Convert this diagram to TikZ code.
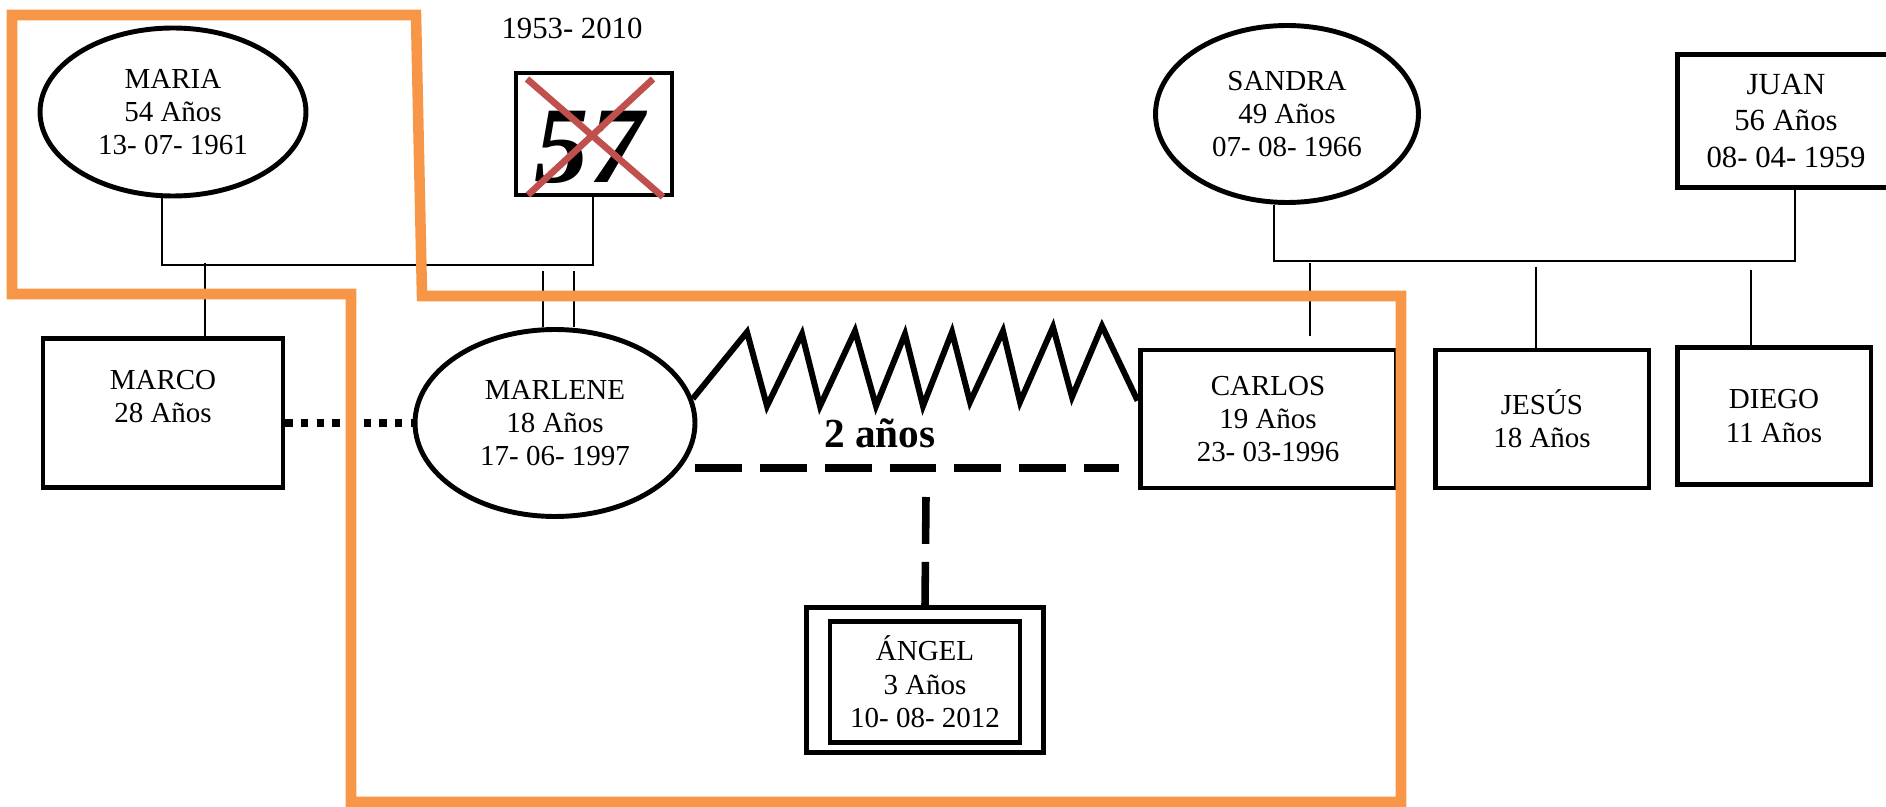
\documentclass[tikz,border=0pt]{standalone}
\usepackage{fontspec}
\setmainfont{Liberation Serif}
\usetikzlibrary{shapes.geometric}
\definecolor{naranja}{HTML}{F79646}
\definecolor{rojo}{HTML}{C0504D}

\begin{document}
\begin{tikzpicture}[x=0.02cm,y=-0.02cm,font=\fontsize{16.5pt}{19pt}\selectfont]
      		\tikzstyle{mujer}=[draw,shape=ellipse,line width=2.8pt,align=center,inner sep=0pt]
      		\tikzstyle{hombre}=[draw,shape=rectangle,line width=2.8pt,align=center,inner sep=0pt]
      		\tikzstyle{lazo}=[line width=0.75pt]
      		\tikzstyle{puntos}=[line width=4.8pt,dash pattern=on 4.2pt off 4.7pt]
      		\tikzstyle{rayas}=[line width=4.3pt,dash pattern=on 26.7pt off 10.2pt]
      		\tikzstyle{resorte}=[line width=3.4pt,line join=miter]
      		\tikzstyle{cruz}=[draw=rojo,line width=3.8pt]
      		\tikzstyle{zona}=[draw=naranja,line width=6pt]

		\useasboundingbox (0,0) rectangle (1886,807);

       	\node[mujer,minimum width=5.32cm,minimum height=3.36cm](maria) at (173,112){MARIA\\54 Años\\13- 07- 1961};
        	\node[hombre,minimum width=3.12cm,minimum height=2.44cm](finado) at (594,134){};
        	\node(cifra) at (589,147){\fontsize{62pt}{62pt}\selectfont\bfseries\itshape 57};
        	\node(vida) at (572,28){\fontsize{17.5pt}{20pt}\selectfont 1953- 2010};

		\node[hombre,minimum width=4.8cm,minimum height=2.98cm](marco) at (163,413){MARCO\\28 Años\\~};
		\node[mujer,minimum width=5.6cm,minimum height=3.74cm](marlene) at (555,423){MARLENE\\18 Años\\17- 06- 1997};
		\node[hombre,minimum width=5.12cm,minimum height=2.76cm](carlos) at (1268,419){CARLOS\\19 Años\\23- 03-1996};

		\node[mujer,minimum width=5.26cm,minimum height=3.54cm](sandra) at (1287,114){SANDRA\\49 Años\\07- 08- 1966};
		\node[hombre,minimum width=4.36cm,minimum height=2.66cm,font=\fontsize{17.5pt}{20.5pt}\selectfont](juan) at (1786,121){JUAN\\56 Años\\08- 04- 1959};
		\node[hombre,minimum width=4.28cm,minimum height=2.76cm](jesus) at (1542,419){JESÚS\\18 Años};
		\node[hombre,minimum width=3.88cm,minimum height=2.74cm](diego) at (1774,416){DIEGO\\11 Años};

		\node[hombre,minimum width=4.74cm,minimum height=2.9cm](angelmarco) at (925,680){};
		\node[hombre,minimum width=3.8cm,minimum height=2.42cm,line width=2.5pt](angel) at (925,682){ÁNGEL\\3 Años\\10- 08- 2012};
		\node[font=\fontsize{23.5pt}{26pt}\selectfont\bfseries](tiempo) at (880,433){2 años};

		\coordinate (u1) at (162,265);
		\coordinate (u2) at (593,265);
		\coordinate (h1) at (205,263);
		\coordinate (g1) at (543,271);
		\coordinate (g2) at (574,271);
		\coordinate (u3) at (1274,261);
		\coordinate (u4) at (1795,261);
		\coordinate (h2) at (1310,263);
		\coordinate (h3) at (1536,267);
		\coordinate (h4) at (1751,270);
		\coordinate (d1) at (695,468);
		\coordinate (d2) at (926,497);

        	\draw[lazo] (u1 |- maria.south) -- (u1) -- (u2) -- (u2 |- finado.south);
        	\draw[lazo] (h1) -- (h1 |- marco.north);
        	\draw[lazo] (g1) -- (g1 |- marlene.north);
        	\draw[lazo] (g2) -- (g2 |- marlene.north);
        	\draw[lazo] (u3 |- sandra.south) -- (u3) -- (u4) -- (u4 |- juan.south);
        	\draw[lazo,shorten >=0.24cm] (h2) -- (h2 |- carlos.north);
        	\draw[lazo] (h3) -- (h3 |- jesus.north);
        	\draw[lazo] (h4) -- (h4 |- diego.north);

		\draw[puntos] (marco.east |- marlene.west) -- (marlene.west);
		\draw[resorte] (marlene.10) -- (747,332) -- (767,406) -- (802,334) -- (820,406) -- (855,331) -- (876,406) -- (905,334) -- (923,406) -- (952,332) -- (970,402) -- (1003,331) -- (1020,402) -- (1053,327) -- (1072,397) -- (1102,326) -- (carlos.172);
		\draw[rayas,shorten >=0.38cm] (d1) -- (d1 -| carlos.west);
		\draw[rayas] (d2) -- (angelmarco.north);

		\draw[cruz] (527,79) -- (663,197) (653,79) -- (528,195);

		\draw[zona] (12,15) -- (416,15) -- (422,296) -- (1401,296) -- (1401,802) -- (351,802) -- (351,294) -- (12,294) -- cycle;
    	\end{tikzpicture}
\end{document}
